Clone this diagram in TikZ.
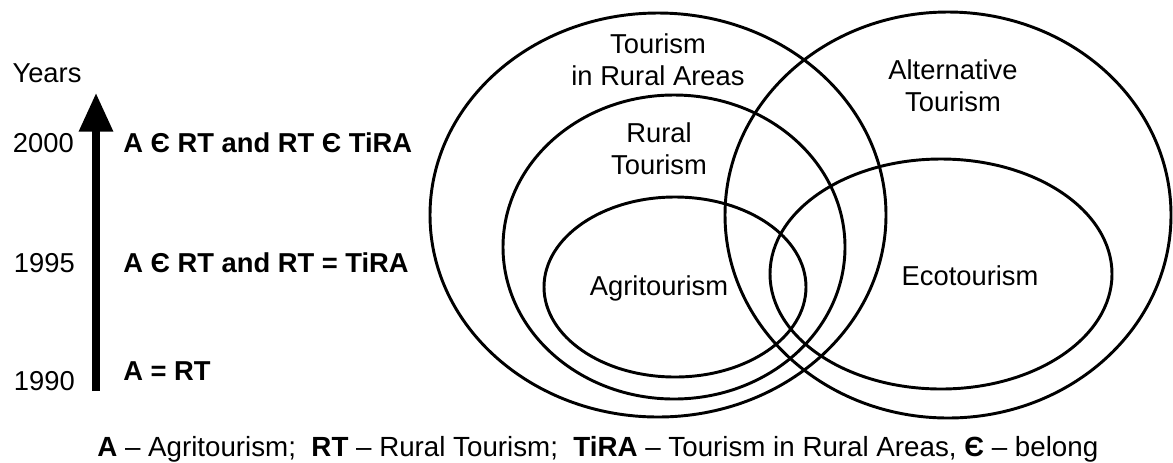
\documentclass[tikz,border=0pt]{standalone}
\usepackage{fontspec}
\setmainfont{Liberation Sans}
\usetikzlibrary{arrows.meta}
\begin{document}
\begin{tikzpicture}[x=0.75pt,y=-0.75pt,
  every node/.style={inner sep=0pt, font=\fontsize{20.5}{24}\selectfont},
  venn/.style={line width=2.2pt},
  lbl/.style={align=center},
  rel/.style={font=\fontsize{20.5}{24}\selectfont\bfseries, anchor=base west},
  yr/.style={anchor=base east},
  timeline/.style={line width=5.6pt, -{Triangle[width=24.5pt,length=29pt]}}]
\useasboundingbox (0,0) rectangle (1173,462);
% ellipses
\draw[venn] (658,215) ellipse [x radius=228, y radius=202];
\draw[venn] (948,215) ellipse [x radius=223, y radius=203];
\draw[venn] (674,247) ellipse [x radius=171, y radius=152];
\draw[venn] (675,287) ellipse [x radius=131, y radius=90];
\draw[venn] (941,274) ellipse [x radius=171, y radius=115];
% ellipse labels
\node[lbl] (tira) at (658,60) {Tourism\\in Rural Areas};
\node[lbl] (alt) at (953,86) {Alternative\\Tourism};
\node[lbl] (rt) at (659,149) {Rural\\Tourism};
\node[anchor=base] (agri) at (659,295) {Agritourism};
\node[anchor=base] (eco) at (970,285) {Ecotourism};
% timeline
\node[anchor=base] (years) at (47,82) {Years};
\coordinate (abot) at (96,391);
\coordinate (atop) at (96,93);
\draw[timeline] (abot) -- (atop);
\node[yr] (y2000) at (74,152) {2000};
\node[yr] (y1995) at (75,272) {1995};
\node[yr] (y1990) at (75,390) {1990};
\node[rel] (r2000) at (123,152) {A Є RT and RT Є TiRA};
\node[rel] (r1995) at (123,272) {A Є RT and RT = TiRA};
\node[rel] (r1990) at (123,380) {A = RT};
% legend
\node[anchor=base west, font=\fontsize{20.8}{24}\selectfont] (legend) at (97,456) {\textbf{A} – Agritourism;\ \ \textbf{RT} – Rural Tourism;\ \ \textbf{TiRA} – Tourism in Rural Areas, \textbf{Є} – belong};
\end{tikzpicture}
\end{document}
